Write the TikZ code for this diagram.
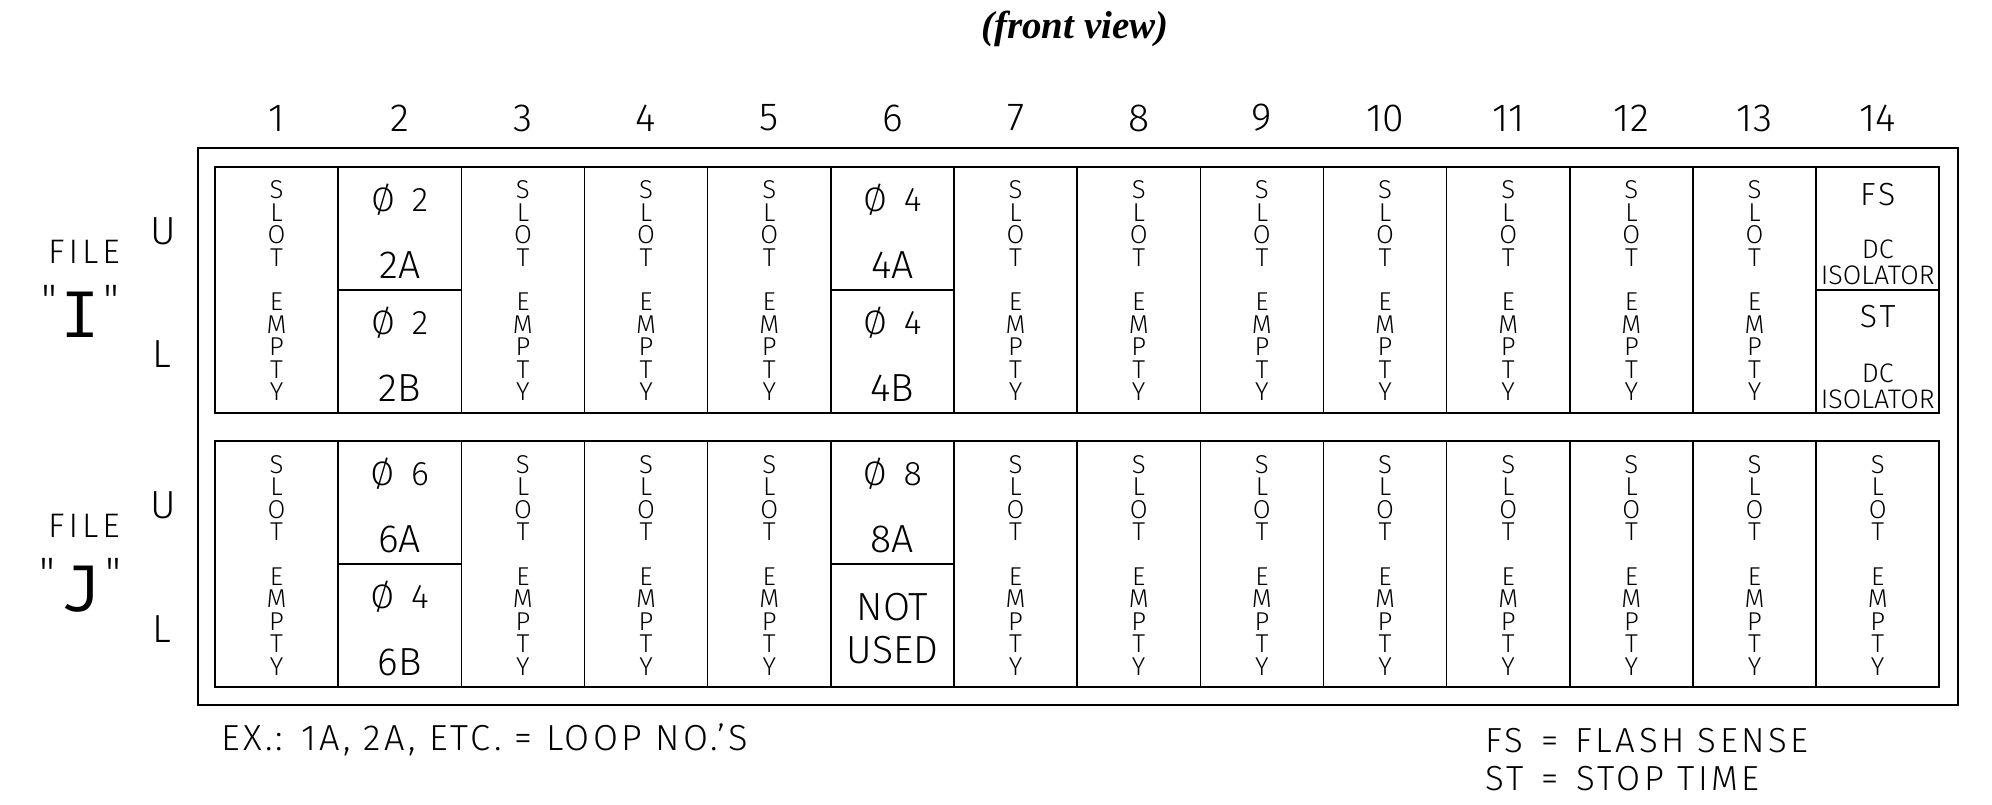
\documentclass[tikz,border=0pt]{standalone}
\usepackage{fontspec}
\setmainfont{Fira Sans Light}
\newfontfamily\monofont{Fira Mono}
\newfontfamily\plainfont{Fira Sans Light}
\newfontfamily\titlefont{Liberation Serif}
\newcommand{\slotempty}{S\\L\\O\\T\\[11.2pt]E\\M\\P\\T\\Y}

\tikzset{
  frame/.style={line width=1pt},
  divider/.style={line width=0.8pt},
  colnum/.style={font=\fontsize{19.6}{22}\selectfont,inner sep=0pt},
  slottext/.style={font=\fontsize{12.9}{11.2}\selectfont,align=center,inner sep=0pt},
  loopnum/.style={font=\fontsize{17}{19}\selectfont,inner sep=0pt,anchor=base},
  loopname/.style={font=\fontsize{19.6}{22}\selectfont,inner sep=0pt,anchor=base},
  smalltag/.style={font=\fontsize{13.4}{15}\selectfont,inner sep=0pt,anchor=base},
  sidetag/.style={font=\fontsize{19.6}{22}\selectfont,inner sep=0pt,anchor=base},
  filetag/.style={font=\fontsize{17}{20}\selectfont\addfontfeature{LetterSpace=12},inner sep=0pt,anchor=base},
  bigletter/.style={font=\monofont\fontsize{33}{36}\selectfont,inner sep=0pt,anchor=base},
  quotemark/.style={font=\plainfont\fontsize{22}{24}\selectfont,inner sep=0pt},
  note/.style={font=\fontsize{18.1}{20}\selectfont\addfontfeature{LetterSpace=9},inner sep=0pt,anchor=base west},
  legend/.style={font=\fontsize{17.4}{20}\selectfont\addfontfeature{LetterSpace=10},inner sep=0pt,anchor=base west}
}

\begin{document}
\begin{tikzpicture}[x=0.5pt,y=-0.5pt]
  \useasboundingbox (0,0) rectangle (1992,804);
  \pgfmathsetmacro{\xl}{215}
  \pgfmathsetmacro{\xr}{1939.3}
  \pgfmathsetmacro{\cw}{(\xr-\xl)/14}

  % title
  \node[font=\titlefont\bfseries\itshape\fontsize{19.5}{22}\selectfont] (title) at (1075,29) {(front view)};

  % frames
  \draw[frame] (197.7,148.3) rectangle (1958.3,705);
  \draw[frame] (\xl,166.7) rectangle (\xr,412.7);
  \draw[frame] (\xl,440.7) rectangle (\xr,687);
  \foreach \i in {1,...,13}
    \draw[divider] ({\xl+\i*\cw},166.7) -- ++(0,246) ({\xl+\i*\cw},440.7) -- ++(0,246.3);
  \draw[divider] ({\xl+\cw},289.7) -- ++(\cw,0);
  \draw[divider] ({\xl+5*\cw},289.7) -- ++(\cw,0);
  \draw[divider] ({\xl+13*\cw},289.7) -- (\xr,289.7);
  \draw[divider] ({\xl+\cw},563.85) -- ++(\cw,0);
  \draw[divider] ({\xl+5*\cw},563.85) -- ++(\cw,0);

  % column numbers
  \foreach \i in {1,...,14}
    \node[colnum] (col\i) at ({\xl+(\i-0.5)*\cw},118) {\i};

  % empty slots
  \foreach \c in {1,3,4,5,7,8,9,10,11,12,13}
    \node[slottext] (slotI\c) at ({\xl+(\c-0.5)*\cw},290.8) {\slotempty};
  \foreach \c in {1,3,4,5,7,8,9,10,11,12,13,14}
    \node[slottext] (slotJ\c) at ({\xl+(\c-0.5)*\cw},565.3) {\slotempty};

  % loop cards
  \foreach \c/\yt/\a/\b in {2/166.7/2/2A, 2/289.7/2/2B, 6/166.7/4/4A, 6/289.7/4/4B,
                            2/440.7/6/6A, 2/563.85/4/6B, 6/440.7/8/8A}{
    \node[loopnum] (phi\b) at ({\xl+(\c-0.5)*\cw},\yt+44.5) {Ø\enspace\a};
    \node[loopname] (loop\b) at ({\xl+(\c-0.5)*\cw},\yt+112) {\b};
  }
  \node[loopname] (notused) at ({\xl+5.5*\cw},620) {NOT};
  \node[loopname] (used) at ({\xl+5.5*\cw},663) {USED};

  % slot 14, file I
  \node[loopnum,font=\fontsize{16}{19}\selectfont\addfontfeature{LetterSpace=10}] (fs) at ({\xl+13.5*\cw},205) {FS};
  \node[smalltag] (dcFS) at ({\xl+13.5*\cw},258) {DC};
  \node[smalltag] (isoFS) at ({\xl+13.5*\cw},284) {ISOLATOR};
  \node[loopnum,font=\fontsize{16}{19}\selectfont\addfontfeature{LetterSpace=10}] (st) at ({\xl+13.5*\cw},327) {ST};
  \node[smalltag] (dcST) at ({\xl+13.5*\cw},382) {DC};
  \node[smalltag] (isoST) at ({\xl+13.5*\cw},408) {ISOLATOR};

  % file labels
  \node[filetag] (fileI) at (84,263) {FILE};
  \node[bigletter] (letterI) at (80,337) {I};
  \node[quotemark] (qIl) at (49,300) {"};
  \node[quotemark] (qIr) at (111,300) {"};
  \node[sidetag] (upI) at (163,244) {U};
  \node[sidetag] (lowI) at (162,367) {L};

  \node[filetag] (fileJ) at (84,537) {FILE};
  \node[bigletter] (letterJ) at (80,611) {J};
  \node[quotemark] (qJl) at (47,573) {"};
  \node[quotemark] (qJr) at (113,573) {"};
  \node[sidetag] (upJ) at (163,518) {U};
  \node[sidetag] (lowJ) at (162,642) {L};

  % notes
  \node[note] (loopnote) at (221,750) {EX.: 1A, 2A, ETC. = LOOP NO.'S};
  \node[legend] (legendFS) at (1485,752) {FS\enspace=\enspace FLASH SENSE};
  \node[legend] (legendST) at (1485,790) {ST\enspace=\enspace STOP TIME};
\end{tikzpicture}
\end{document}
